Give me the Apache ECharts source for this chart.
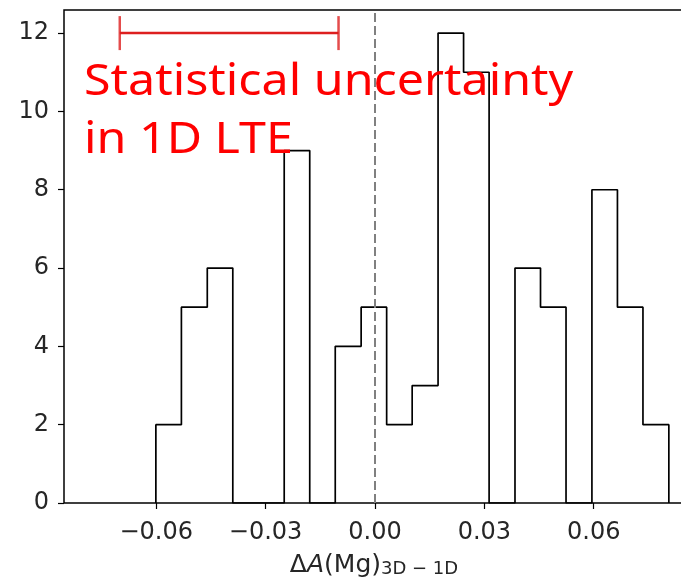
<!DOCTYPE html>
<html>
<head>
<meta charset="utf-8">
<script src="https://cdn.jsdelivr.net/npm/echarts@6/dist/echarts.min.js"></script>
<style>
html,body{margin:0;padding:0;background:#fff;overflow:hidden;}
#chart{width:700px;height:580px;}
</style>
</head>
<body>
<div id="chart"></div>
<script>
// ---- data ----
var binEdges = [-0.0601, -0.0531, -0.0460, -0.0390, -0.0320, -0.0249, -0.0179, -0.0109, -0.0038, 0.0032,
                0.0102, 0.0173, 0.0243, 0.0313, 0.0384, 0.0454, 0.0524, 0.0595, 0.0665, 0.0735, 0.0806];
var counts = [2, 5, 6, 0, 0, 9, 0, 4, 5, 2, 3, 12, 11, 0, 6, 5, 0, 8, 5, 2];
var xTicks = [-0.06, -0.03, 0.00, 0.03, 0.06];
var yTicks = [0, 2, 4, 6, 8, 10, 12];
var errCenter = -0.04, errHalfWidth = 0.03, errY = 12;
var refLineX = 0;
var annotation = ['Statistical uncertainty', 'in 1D LTE'];

// build step outline from bins
var steps = [[binEdges[0], 0]];
for (var i = 0; i < counts.length; i++) {
  steps.push([binEdges[i], counts[i]]);
  steps.push([binEdges[i + 1], counts[i]]);
}
steps.push([binEdges[binEdges.length - 1], 0]);

var chart = echarts.init(document.getElementById('chart'));
var tickFont = {fontFamily: 'DejaVu Sans', fontSize: 24, color: '#262626'};
var lblBase = {fontFamily: 'DejaVu Sans', color: '#262626', verticalAlign: 'bottom'};

chart.setOption({
  animation: false,
  grid: {left: 64, right: 6, top: 10, bottom: 77, outerBoundsMode: 'none', containLabel: false,
    show: true, borderColor: '#000', borderWidth: 1.5, backgroundColor: 'transparent'},
  xAxis: {
    type: 'value', min: -0.0853, max: 0.0875, interval: 0.03,
    axisLine: {show: false, onZero: false},
    axisTick: {show: true, length: 6, lineStyle: {color: '#000', width: 1.2}, customValues: xTicks},
    axisLabel: Object.assign({margin: 18, customValues: xTicks,
      formatter: function (v) { return (v < 0 ? '\u2212' : '') + Math.abs(v).toFixed(2); }}, tickFont),
    splitLine: {show: false},
    name: '{d|\u0394}{i|A}{n|(Mg)}{s|3D \u2212 1D}',
    nameLocation: 'middle', nameGap: 45,
    nameTextStyle: {
      padding: [0, 10, 0, 0],
      rich: {
        d: Object.assign({fontSize: 25, lineHeight: 30}, lblBase),
        i: Object.assign({fontSize: 25, lineHeight: 30, fontStyle: 'italic'}, lblBase),
        n: Object.assign({fontSize: 25, lineHeight: 30}, lblBase),
        s: Object.assign({fontSize: 18, lineHeight: 8}, lblBase)
      }
    }
  },
  yAxis: {
    type: 'value', min: 0, max: 12.59, interval: 2,
    axisLine: {show: false, onZero: false},
    axisTick: {show: true, length: 6, lineStyle: {color: '#000', width: 1.2}, customValues: yTicks},
    axisLabel: Object.assign({margin: 15, customValues: yTicks}, tickFont),
    splitLine: {show: false}
  },
  series: [
    {
      type: 'line', data: steps, symbol: 'none', z: 3,
      lineStyle: {color: '#000', width: 1.7},
      markLine: {
        silent: true, symbol: 'none', label: {show: false},
        lineStyle: {color: '#808080', width: 2, type: [9, 4]},
        data: [{xAxis: refLineX}]
      }
    },
    {
      type: 'line', symbol: 'none', z: 4,
      lineStyle: {color: '#dd1f1f', width: 2.5},
      data: [[errCenter - errHalfWidth, errY], [errCenter + errHalfWidth, errY]]
    },
    {
      type: 'scatter', symbol: 'rect', symbolSize: [2.5, 34], z: 4,
      itemStyle: {color: '#dd1f1f'},
      data: [[errCenter - errHalfWidth, errY], [errCenter + errHalfWidth, errY]]
    }
  ],
  graphic: [
    {type: 'text', x: 84, y: 60, scaleX: 1.1, z: 10,
      style: {text: annotation[0], fontFamily: 'Noto Sans', fontSize: 44, fill: '#ff0000'}},
    {type: 'text', x: 84, y: 118, scaleX: 1.1, z: 10,
      style: {text: annotation[1], fontFamily: 'Noto Sans', fontSize: 44, fill: '#ff0000'}}
  ]
});
</script>
</body>
</html>
